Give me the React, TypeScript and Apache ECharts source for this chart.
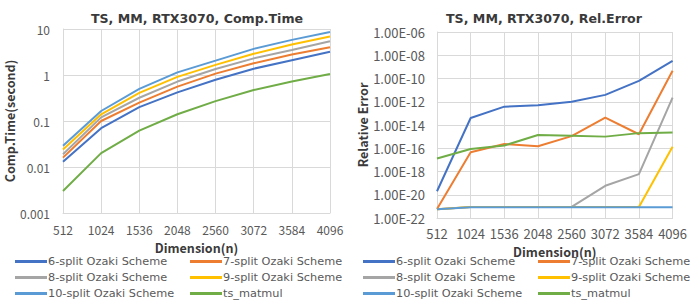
import React, { useEffect, useRef } from "react";
import * as echarts from "echarts";

const dims = ["512", "1024", "1536", "2048", "2560", "3072", "3584", "4096"];
const seriesNames = [
  "6-split Ozaki Scheme",
  "7-split Ozaki Scheme",
  "8-split Ozaki Scheme",
  "9-split Ozaki Scheme",
  "10-split Ozaki Scheme",
  "ts_matmul",
];
const colors = ["#4472C4", "#ED7D31", "#A5A5A5", "#FFC000", "#5B9BD5", "#70AD47"];

// Computation time (seconds)
const time6 = [0.013, 0.07, 0.2, 0.42, 0.79, 1.37, 2.1, 3.2];
const time7 = [0.016, 0.1, 0.25, 0.56, 1.07, 1.8, 2.8, 4.0];
const time8 = [0.019, 0.12, 0.32, 0.72, 1.35, 2.3, 3.5, 5.4];
const time9 = [0.024, 0.14, 0.41, 0.91, 1.66, 2.9, 4.6, 6.9];
const time10 = [0.029, 0.165, 0.5, 1.14, 2.05, 3.7, 5.8, 8.6];
const timeTs = [0.003, 0.02, 0.062, 0.14, 0.27, 0.47, 0.72, 1.05];

// Relative error
const err6 = [2e-20, 4e-14, 3.8e-13, 5e-13, 1e-12, 3.9e-12, 6.3e-11, 3.3e-9];
const err7 = [6e-22, 4.5e-17, 2.3e-16, 1.5e-16, 1.1e-15, 4.3e-14, 1.6e-15, 4.6e-10];
const err8 = [5.6e-22, 9e-22, 9e-22, 9e-22, 9e-22, 5.9e-20, 5.9e-19, 2.3e-12];
const err9 = [5.6e-22, 9e-22, 9e-22, 9e-22, 9e-22, 9e-22, 9e-22, 1.35e-16];
const err10 = [5.6e-22, 8.5e-22, 8.5e-22, 8.5e-22, 8.5e-22, 8.5e-22, 8.5e-22, 8.5e-22];
const errTs = [1.3e-17, 8.5e-17, 1.7e-16, 1.4e-15, 1.2e-15, 1e-15, 2e-15, 2.3e-15];

// Relative-error axis, in powers of ten
const errAxisMinExp = -22;
const errAxisMaxExp = -6;

const timeData = [time6, time7, time8, time9, time10, timeTs];
const errData = [err6, err7, err8, err9, err10, errTs];

const FONT = "'Noto Sans CJK JP', 'Noto Sans', sans-serif";
const WIDE = "'DejaVu Sans', sans-serif";
const LABEL = "#595959";
const GRIDC = "#D9D9D9";
const TITLEC = "#3A3A3A";

function sciLabel(e: number) {
  const sign = e < 0 ? "-" : "+";
  const abs = Math.abs(Math.round(e));
  return "1.00E" + sign + (abs < 10 ? "0" + abs : String(abs));
}

export default function App() {
  const ref = useRef<HTMLDivElement>(null);
  useEffect(() => {
    if (!ref.current) return;
    const chart = echarts.init(ref.current, undefined, { renderer: "svg" });

    const legendPos = [
      [15, 256],
      [190, 256],
      [15, 272],
      [190, 272],
      [15, 288],
      [190, 288],
    ];
    const legends: any[] = [];
    [0, 348].forEach((off) => {
      seriesNames.forEach((n, i) => {
        legends.push({
          data: [n],
          left: legendPos[i][0] + off,
          top: legendPos[i][1],
          icon: "rect",
          itemWidth: 32,
          itemHeight: 3,
          itemGap: 0,
          padding: 0,
          selectedMode: false,
          textStyle: { fontFamily: WIDE, fontSize: 11.3, color: LABEL, padding: [0, 0, 0, -4] },
        });
      });
    });

    const series: any[] = [];
    seriesNames.forEach((n, i) => {
      series.push({
        name: n,
        type: "line",
        xAxisIndex: 0,
        yAxisIndex: 0,
        data: timeData[i],
        symbol: "none",
        lineStyle: { width: 2, color: colors[i] },
        itemStyle: { color: colors[i] },
      });
    });
    seriesNames.forEach((n, i) => {
      series.push({
        name: n,
        type: "line",
        xAxisIndex: 1,
        yAxisIndex: 1,
        data: errData[i].map((v) => Math.log10(v)),
        symbol: "none",
        lineStyle: { width: 2, color: colors[i] },
        itemStyle: { color: colors[i] },
      });
    });

    const xAxisCommon = {
      type: "category",
      data: dims,
      boundaryGap: false,
      axisLine: { lineStyle: { color: GRIDC } },
      axisTick: { show: false },
      splitLine: { show: true, lineStyle: { color: GRIDC, width: 1 } },
      axisLabel: { fontFamily: FONT, fontSize: 12, color: LABEL, interval: 0, hideOverlap: false },
      name: "Dimension(n)",
      nameLocation: "middle",
      nameTextStyle: { fontFamily: FONT, fontSize: 12.5, fontWeight: "bold", color: TITLEC },
    };

    chart.setOption({
      animation: false,
      title: [
        {
          text: "TS, MM, RTX3070, Comp.Time",
          left: 192,
          top: 7,
          textAlign: "center",
          textStyle: { fontFamily: WIDE, fontSize: 12.6, fontWeight: "bold", color: TITLEC },
        },
        {
          text: "TS, MM, RTX3070, Rel.Error",
          left: 539,
          top: 7,
          textAlign: "center",
          textStyle: { fontFamily: WIDE, fontSize: 12.6, fontWeight: "bold", color: TITLEC },
        },
      ],
      legend: legends,
      grid: [
        { left: 63, top: 29, width: 267, height: 184 },
        { left: 437, top: 32, width: 240, height: 186 },
      ],
      xAxis: [
        { ...xAxisCommon, gridIndex: 0, nameGap: 28, axisLabel: { ...xAxisCommon.axisLabel, margin: 10 } },
        { ...xAxisCommon, gridIndex: 1, nameGap: 22, axisLabel: { ...xAxisCommon.axisLabel, fontSize: 13, margin: 9 } },
      ],
      yAxis: [
        {
          type: "log",
          gridIndex: 0,
          logBase: 10,
          min: 0.001,
          max: 10,
          splitNumber: 4,
          axisLine: { show: true, lineStyle: { color: GRIDC } },
          axisTick: { show: false },
          splitLine: { show: true, lineStyle: { color: GRIDC } },
          axisLabel: {
            fontFamily: FONT,
            fontSize: 12,
            color: LABEL,
            margin: 13,
            formatter: (v: number) => {
              const e = Math.round(Math.log10(v));
              return e >= 0 ? String(Math.pow(10, e)) : Math.pow(10, e).toFixed(-e);
            },
          },
          name: "Comp.Time(second)",
          nameLocation: "middle",
          nameGap: 39,
          nameTextStyle: { fontFamily: FONT, fontSize: 12.5, fontWeight: "bold", color: TITLEC },
        },
        {
          type: "value",
          gridIndex: 1,
          min: errAxisMinExp,
          max: errAxisMaxExp,
          interval: 2,
          axisLine: { show: true, lineStyle: { color: GRIDC } },
          axisTick: { show: false },
          splitLine: { show: true, lineStyle: { color: GRIDC } },
          axisLabel: {
            fontFamily: FONT,
            fontSize: 13,
            color: LABEL,
            margin: 12,
            formatter: (v: number) => sciLabel(v),
          },
          name: "Relative Error",
          nameLocation: "middle",
          nameGap: 67,
          nameTextStyle: { fontFamily: FONT, fontSize: 12.5, fontWeight: "bold", color: TITLEC },
        },
      ],
      series,
    });
    return () => chart.dispose();
  }, []);
  return <div ref={ref} style={{ width: 690, height: 303, position: "absolute", left: 0, top: 0, background: "#fff" }} />;
}
